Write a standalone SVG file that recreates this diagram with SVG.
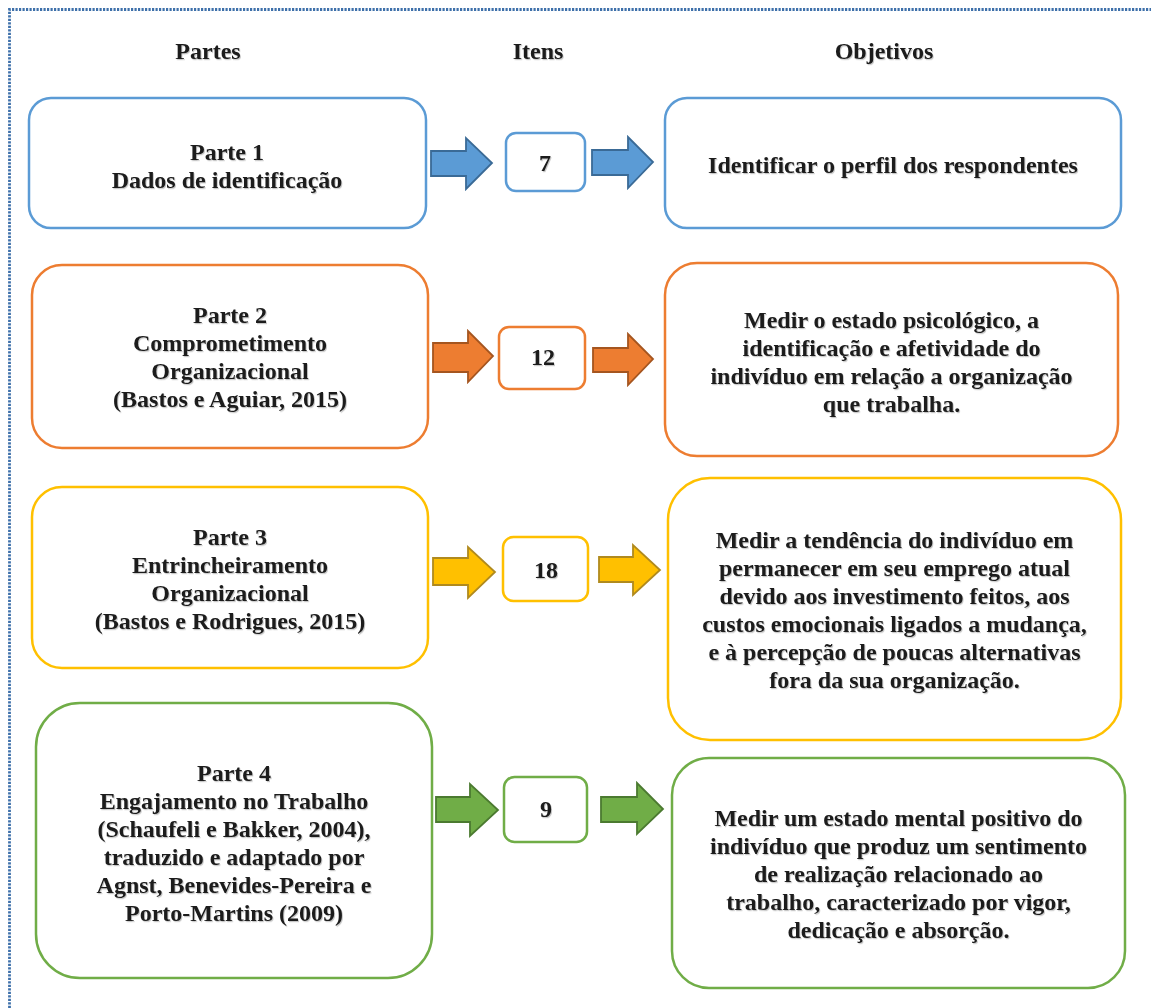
<svg xmlns="http://www.w3.org/2000/svg" width="1151" height="1008" viewBox="0 0 1151 1008">
  <style>
    text { font-family: "Liberation Serif", "Times New Roman", serif; font-weight: bold; font-size: 24px; fill: #1a1a1a; text-anchor: middle; filter: url(#txtShadow); }
    .box { fill: #ffffff; stroke-width: 2.5; }
    .blue { stroke: #5B9BD5; }
    .orange { stroke: #ED7D31; }
    .yellow { stroke: #FFC000; }
    .green { stroke: #70AD47; }
    .arr { stroke-width: 1.8; stroke-linejoin: miter; }
    .a-blue { fill: #5B9BD5; stroke: #3A6A96; }
    .a-orange { fill: #ED7D31; stroke: #A5551F; }
    .a-yellow { fill: #FFC000; stroke: #B08A1E; }
    .a-green { fill: #70AD47; stroke: #4B7A30; }
  </style>
  <defs>
    <filter id="txtShadow" x="-10%" y="-30%" width="120%" height="160%">
      <feDropShadow dx="1" dy="1.2" stdDeviation="0.7" flood-color="#000000" flood-opacity="0.22"/>
    </filter>
  </defs>

  <!-- dotted frame (top and left edges) -->
  <path d="M9.5,1008 V9.5 H1151" fill="none" stroke="#3E70AA" stroke-width="2.8" stroke-dasharray="2.2 1.3"/>

  <!-- column headings -->
  <g id="headings">
    <text x="208" y="59">Partes</text>
    <text x="538" y="59">Itens</text>
    <text x="884" y="59">Objetivos</text>
  </g>

  <!-- row 1 -->
  <g id="parte1">
    <rect class="box blue" x="29" y="98" width="397" height="130" rx="22"/>
    <text x="227" y="160">Parte 1</text>
    <text x="227" y="188">Dados de identificação</text>
  </g>
  <g id="itens1">
    <rect class="box blue" x="506" y="133" width="79" height="58" rx="10"/>
    <text x="545" y="171">7</text>
  </g>
  <g id="objetivo1">
    <rect class="box blue" x="665" y="98" width="456" height="130" rx="22"/>
    <text x="893" y="173">Identificar o perfil dos respondentes</text>
  </g>

  <!-- row 2 -->
  <g id="parte2">
    <rect class="box orange" x="32" y="265" width="396" height="183" rx="30"/>
    <text x="230" y="323">Parte 2</text>
    <text x="230" y="351">Comprometimento</text>
    <text x="230" y="379">Organizacional</text>
    <text x="230" y="407">(Bastos e Aguiar, 2015)</text>
  </g>
  <g id="itens2">
    <rect class="box orange" x="499" y="327" width="86" height="62" rx="10"/>
    <text x="543" y="365">12</text>
  </g>
  <g id="objetivo2">
    <rect class="box orange" x="665" y="263" width="453" height="193" rx="32"/>
    <text x="891.5" y="328">Medir o estado psicológico, a</text>
    <text x="891.5" y="356">identificação e afetividade do</text>
    <text x="891.5" y="384">indivíduo em relação a organização</text>
    <text x="891.5" y="412">que trabalha.</text>
  </g>

  <!-- row 3 -->
  <g id="parte3">
    <rect class="box yellow" x="32" y="487" width="396" height="181" rx="30"/>
    <text x="230" y="545">Parte 3</text>
    <text x="230" y="573">Entrincheiramento</text>
    <text x="230" y="601">Organizacional</text>
    <text x="230" y="629">(Bastos e Rodrigues, 2015)</text>
  </g>
  <g id="itens3">
    <rect class="box yellow" x="503" y="537" width="85" height="64" rx="10.5"/>
    <text x="546" y="578">18</text>
  </g>
  <g id="objetivo3">
    <rect class="box yellow" x="668" y="478" width="453" height="262" rx="42"/>
    <text x="894.5" y="548">Medir a tendência do indivíduo em</text>
    <text x="894.5" y="576">permanecer em seu emprego atual</text>
    <text x="894.5" y="604">devido aos investimento feitos, aos</text>
    <text x="894.5" y="632">custos emocionais ligados a mudança,</text>
    <text x="894.5" y="660">e à percepção de poucas alternativas</text>
    <text x="894.5" y="688">fora da sua organização.</text>
  </g>

  <!-- row 4 -->
  <g id="parte4">
    <rect class="box green" x="36" y="703" width="396" height="275" rx="44"/>
    <text x="234" y="781">Parte 4</text>
    <text x="234" y="809">Engajamento no Trabalho</text>
    <text x="234" y="837">(Schaufeli e Bakker, 2004),</text>
    <text x="234" y="865">traduzido e adaptado por</text>
    <text x="234" y="893">Agnst, Benevides-Pereira e</text>
    <text x="234" y="921">Porto-Martins (2009)</text>
  </g>
  <g id="itens4">
    <rect class="box green" x="504" y="777" width="83" height="65" rx="10.5"/>
    <text x="546" y="817">9</text>
  </g>
  <g id="objetivo4">
    <rect class="box green" x="672" y="758" width="453" height="230" rx="37"/>
    <text x="898.5" y="826">Medir um estado mental positivo do</text>
    <text x="898.5" y="854">indivíduo que produz um sentimento</text>
    <text x="898.5" y="882">de realização relacionado ao</text>
    <text x="898.5" y="910">trabalho, caracterizado por vigor,</text>
    <text x="898.5" y="938">dedicação e absorção.</text>
  </g>

  <!-- block arrows -->
  <g id="connectors">
    <polygon class="arr a-blue" points="431,151 466,151 466,138 492,163 466,189 466,176 431,176"/>
    <polygon class="arr a-blue" points="592,150 628,150 628,137 653,162 628,188 628,175 592,175"/>

    <polygon class="arr a-orange" points="433,343 468,343 468,331 493,356 468,382 468,372 433,372"/>
    <polygon class="arr a-orange" points="593,348 628,348 628,334 653,359 628,385 628,372 593,372"/>

    <polygon class="arr a-yellow" points="433,558 468,558 468,547 495,572 468,598 468,585 433,585"/>
    <polygon class="arr a-yellow" points="599,557 633,557 633,545 660,570 633,595 633,582 599,582"/>

    <polygon class="arr a-green" points="436,797 470,797 470,784 498,810 470,836 470,822 436,822"/>
    <polygon class="arr a-green" points="601,797 637,797 637,783 663,809 637,834 637,822 601,822"/>
  </g>
</svg>
